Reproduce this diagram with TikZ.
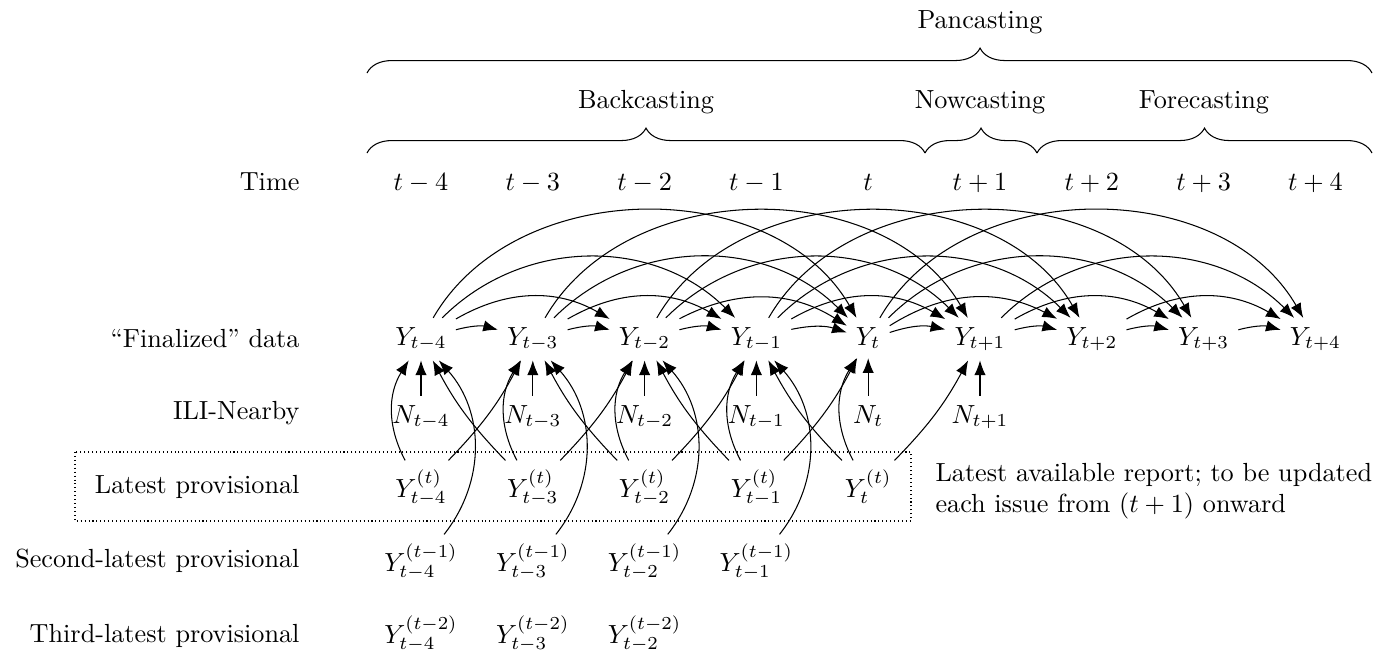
\documentclass[tikz,border=0pt]{standalone}
\usetikzlibrary{arrows.meta,decorations.pathreplacing}
\begin{document}
\begin{tikzpicture}[x=0.3817pt,y=-0.3817pt,
  lbl/.style={inner sep=0pt, anchor=base east},
  var/.style={anchor=base},
  arr/.style={-{Latex[length=5.6pt,width=4.3pt]}},
  brc/.style={decorate, decoration={brace, amplitude=9.5pt}}]
\useasboundingbox (0,0) rectangle (1394,656);

% row labels
\node[lbl] (lTime) at (300,190) {Time};
\node[lbl] (lFin)  at (300,347) {``Finalized'' data};
\node[lbl] (lILI)  at (300,419) {ILI-Nearby};
\node[lbl] (lLat)  at (300,493) {Latest provisional};
\node[lbl] (lSec)  at (300,567) {Second-latest provisional};
\node[lbl] (lThr)  at (300,642) {Third-latest provisional};

% time, finalized
\foreach \k/\s in {0/t-4,1/t-3,2/t-2,3/t-1,4/t,5/t+1,6/t+2,7/t+3,8/t+4}{
  \node[var] (T\k) at ({421+111.8*\k},190) {$\s$};
  \node[var] (Y\k) at ({421+111.8*\k},345) {$Y_{\s}$};
}
% ILI-Nearby
\foreach \k/\s in {0/t-4,1/t-3,2/t-2,3/t-1,4/t,5/t+1}{
  \node[var] (N\k) at ({421+111.8*\k},423) {$N_{\s}$};
}
% provisional rows
\foreach \k/\s in {0/t-4,1/t-3,2/t-2,3/t-1,4/t}{
  \node[var] (P\k) at ({421+111.8*\k},497) {$Y^{(t)}_{\s}$};
}
\foreach \k/\s in {0/t-4,1/t-3,2/t-2,3/t-1}{
  \node[var] (Q\k) at ({421+111.8*\k},571) {$Y^{(t-1)}_{\s}$};
}
\foreach \k/\s in {0/t-4,1/t-3,2/t-2}{
  \node[var] (R\k) at ({421+111.8*\k},643) {$Y^{(t-2)}_{\s}$};
}

% latest provisional box
\coordinate (boxA) at (75,452);
\coordinate (boxB) at (911,521);
\draw[dash pattern=on 0.4pt off 1.1pt] (boxA) rectangle (boxB);

\node[inner sep=0pt, anchor=west, align=left] (note) at (935,491)
  {Latest available report; to be updated\\each issue from $(t+1)$ onward};

% braces
\coordinate (bA) at (367,153);
\coordinate (bB) at (925,153);
\coordinate (bC) at (1037,153);
\coordinate (bD) at (1372,153);
\coordinate (pA) at (367,73);
\coordinate (pB) at (1372,73);
\draw[brc] (bA) -- (bB);
\draw[brc] (bB) -- (bC);
\draw[brc] (bC) -- (bD);
\draw[decorate, decoration={brace, amplitude=9.5pt, aspect=0.61}] (pA) -- (pB);
\node[var] (back) at (646,108) {Backcasting};
\node[var] (now)  at (980,108) {Nowcasting};
\node[var] (fore) at (1204,108) {Forecasting};
\node[var] (pan)  at (980,28) {Pancasting};

% finalized arcs
\foreach \i in {0,...,7}{
  \foreach \d in {1,...,4}{
    \pgfmathtruncatemacro\j{\i+\d}
    \pgfmathtruncatemacro\b{15*\d}
    \ifnum\j<9
      \draw[arr] (Y\i) to[bend left=\b] (Y\j);
    \fi
  }
}
% ILI-Nearby arrows
\foreach \k in {0,...,5}{
  \draw[arr] (N\k) -- (Y\k);
}
% latest provisional arrows
\foreach \k in {0,...,4}{
  \pgfmathtruncatemacro\j{\k+1}
  \draw[arr] (P\k) to[bend left=30] (Y\k);
  \draw[arr] (P\k) to[bend right=8] (Y\j);
}
\foreach \k in {1,...,4}{
  \pgfmathtruncatemacro\j{\k-1}
  \draw[arr] (P\k) to[bend left=8] (Y\j);
}
% second-latest arrows
\foreach \k in {0,...,3}{
  \draw[arr] (Q\k) to[bend right=40] (Y\k);
}
\end{tikzpicture}
\end{document}
